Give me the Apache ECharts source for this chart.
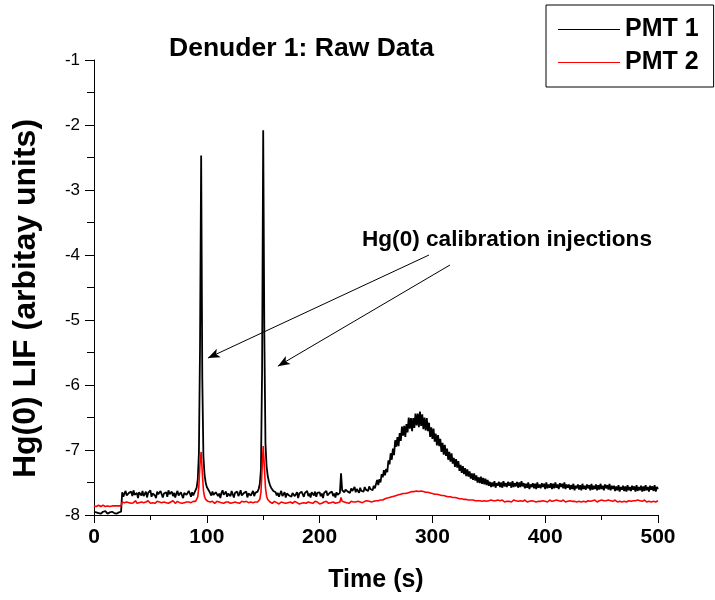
<!DOCTYPE html>
<html>
<head>
<meta charset="utf-8">
<script src="https://cdn.jsdelivr.net/npm/echarts@6/dist/echarts.min.js"></script>
<style>html,body{margin:0;padding:0;background:#fff}#c{width:715px;height:600px}</style>
</head>
<body>
<div id="c"></div>
<script>
// ---- Data (time in s, 1 s sampling; each segment starts at the given time) ----
const seriesNames = ['PMT 1', 'PMT 2'];
const xTicks = [0, 100, 200, 300, 400, 500];
const yTicks = [-8, -7, -6, -5, -4, -3, -2, -1];

// PMT 1 (black)
const pmt1_t0 = [-7.95,-7.97,-7.96,-7.94,-7.97,-7.95,-7.98,-7.96,-7.95,-7.97,-7.94,-7.96,-7.98,-7.95,-7.96,-7.97,-7.95,-7.94,-7.97,-7.96,-7.98,-7.95,-7.96,-7.97,-7.95];
const pmt1_t25 = [-7.65,-7.72,-7.67,-7.63,-7.70,-7.73,-7.66,-7.68,-7.64,-7.71,-7.62,-7.69,-7.72,-7.66,-7.74,-7.65,-7.67,-7.70,-7.63,-7.71,-7.68,-7.64,-7.73,-7.66,-7.69,-7.62,-7.72,-7.67,-7.65,-7.70,-7.74,-7.64,-7.68,-7.71,-7.63,-7.66,-7.73,-7.67,-7.70,-7.65,-7.72,-7.62,-7.68,-7.69,-7.64,-7.71,-7.66,-7.73,-7.67,-7.63,-7.70,-7.72,-7.65,-7.68,-7.74,-7.66,-7.64,-7.69,-7.71,-7.63,-7.67,-7.72,-7.65,-7.70,-7.66];
const pmt1_t90 = [-7.64,-7.58,-7.45,-7.05,-5.40,-2.47,-5.90,-7.10,-7.38,-7.50,-7.57,-7.60,-7.63,-7.66];
const pmt1_t104 = [-7.70,-7.64,-7.69,-7.72,-7.65,-7.63,-7.71,-7.67,-7.74,-7.66,-7.62,-7.69,-7.70,-7.64,-7.72,-7.67,-7.65,-7.71,-7.63,-7.68,-7.73,-7.66,-7.69,-7.64,-7.71,-7.67,-7.62,-7.70,-7.72,-7.66,-7.68,-7.64,-7.73,-7.67,-7.65,-7.70,-7.69,-7.63,-7.71,-7.66,-7.68,-7.64];
const pmt1_t146 = [-7.60,-7.52,-7.30,-5.80,-2.08,-5.20,-6.90,-7.25,-7.40,-7.48,-7.54,-7.58,-7.61,-7.63,-7.66];
const pmt1_t161 = [-7.65,-7.70,-7.66,-7.72,-7.67,-7.63,-7.71,-7.69,-7.65,-7.73,-7.67,-7.64,-7.70,-7.68,-7.72,-7.66,-7.63,-7.71,-7.69,-7.65,-7.74,-7.67,-7.70,-7.64,-7.68,-7.72,-7.66,-7.69,-7.63,-7.71,-7.67,-7.73,-7.65,-7.68,-7.70,-7.64,-7.72,-7.66,-7.69,-7.65,-7.71,-7.67,-7.74,-7.66,-7.68,-7.63,-7.70,-7.72,-7.66,-7.69,-7.64,-7.71,-7.67,-7.73,-7.65,-7.69,-7.70,-7.66];
const pmt1_t219 = [-7.36,-7.62];
const pmt1_t221 = [-7.60,-7.65,-7.61,-7.58,-7.64,-7.62,-7.66,-7.59,-7.63,-7.61,-7.57,-7.65,-7.60,-7.62,-7.66,-7.58,-7.63,-7.60,-7.64,-7.57,-7.61,-7.59,-7.63,-7.56,-7.60,-7.58,-7.62,-7.55,-7.59,-7.57];
const pmt1_t251 = [-7.46,-7.54,-7.45,-7.50,-7.37,-7.42,-7.31,-7.39,-7.29,-7.34,-7.16,-7.22,-7.05,-7.15,-6.98,-7.08,-6.85,-6.95,-6.80,-6.94,-6.74,-6.86,-6.64,-6.78,-6.63,-6.80,-6.60,-6.73,-6.50,-6.67,-6.51,-6.71,-6.51,-6.66,-6.44,-6.62,-6.44,-6.65,-6.41,-6.63,-6.45,-6.68,-6.50,-6.70,-6.51,-6.71,-6.58,-6.80,-6.65,-6.83,-6.67,-6.87,-6.75,-6.93,-6.77,-6.94,-6.83,-7.03,-6.89,-7.07,-6.92,-7.09,-6.98,-7.15,-7.03,-7.18,-7.05,-7.21,-7.12,-7.26,-7.14,-7.27,-7.17,-7.32,-7.23,-7.35,-7.25,-7.37,-7.28,-7.40,-7.30,-7.41,-7.33,-7.44,-7.36,-7.46,-7.36,-7.47,-7.39,-7.50,-7.42,-7.51,-7.41,-7.52,-7.43,-7.53,-7.44,-7.54,-7.46,-7.55];
const pmt1_t351 = [-7.49,-7.57,-7.50,-7.56,-7.48,-7.58,-7.51,-7.55,-7.49,-7.57,-7.50,-7.58,-7.48,-7.56,-7.51,-7.57,-7.49,-7.55,-7.50,-7.58,-7.48,-7.57,-7.51,-7.56,-7.49,-7.58,-7.50,-7.57,-7.48,-7.56];
const pmt1_t381 = [-7.51,-7.59,-7.52,-7.58,-7.50,-7.60,-7.53,-7.57,-7.51,-7.59,-7.52,-7.60,-7.50,-7.58,-7.53,-7.59,-7.51,-7.57,-7.52,-7.60,-7.50,-7.59,-7.53,-7.58,-7.51,-7.60,-7.52,-7.59,-7.50,-7.58,-7.53,-7.60,-7.51,-7.57,-7.52,-7.59,-7.50,-7.60,-7.53,-7.58];
const pmt1_t421 = [-7.53,-7.61,-7.54,-7.60,-7.52,-7.62,-7.55,-7.59,-7.53,-7.61,-7.54,-7.62,-7.52,-7.60,-7.55,-7.61,-7.53,-7.59,-7.54,-7.62,-7.52,-7.61,-7.55,-7.60,-7.53,-7.62,-7.54,-7.61,-7.52,-7.60,-7.55,-7.62,-7.53,-7.59,-7.54,-7.61,-7.52,-7.62,-7.55,-7.60];
const pmt1_t461 = [-7.55,-7.63,-7.56,-7.62,-7.54,-7.64,-7.57,-7.61,-7.55,-7.63,-7.56,-7.64,-7.54,-7.62,-7.57,-7.63,-7.55,-7.61,-7.56,-7.64,-7.54,-7.63,-7.57,-7.62,-7.55,-7.64,-7.56,-7.63,-7.54,-7.62,-7.57,-7.64,-7.55,-7.61,-7.56,-7.63,-7.54,-7.64,-7.57,-7.60];

// PMT 2 (red)
const pmt2_t0 = [-7.86,-7.85,-7.87,-7.86,-7.85,-7.86,-7.87,-7.86,-7.85,-7.86,-7.87,-7.85,-7.86,-7.86,-7.87,-7.85,-7.86,-7.87,-7.86,-7.85,-7.86,-7.87,-7.86,-7.85,-7.86];
const pmt2_t25 = [-7.80,-7.79,-7.81,-7.82,-7.80,-7.78,-7.81,-7.80,-7.82,-7.79,-7.81,-7.80,-7.78,-7.82,-7.80,-7.81,-7.79,-7.80,-7.82,-7.81,-7.79,-7.80,-7.81,-7.78,-7.80,-7.82,-7.79,-7.81,-7.80,-7.82,-7.80,-7.79,-7.81,-7.80,-7.78,-7.81,-7.82,-7.80,-7.79,-7.81,-7.80,-7.82,-7.79,-7.80,-7.81,-7.78,-7.80,-7.82,-7.81,-7.79,-7.80,-7.81,-7.79,-7.82,-7.80,-7.81,-7.79,-7.80,-7.82,-7.80,-7.78,-7.81,-7.80,-7.79,-7.81];
const pmt2_t90 = [-7.79,-7.77,-7.72,-7.55,-7.20,-7.03,-7.35,-7.62,-7.72,-7.76,-7.78,-7.79,-7.80];
const pmt2_t103 = [-7.80,-7.81,-7.79,-7.80,-7.82,-7.80,-7.79,-7.81,-7.80,-7.78,-7.81,-7.80,-7.82,-7.79,-7.80,-7.81,-7.80,-7.79,-7.82,-7.80,-7.81,-7.79,-7.80,-7.78,-7.81,-7.80,-7.82,-7.80,-7.79,-7.81,-7.80,-7.82,-7.79,-7.80,-7.81,-7.79,-7.80,-7.82,-7.81,-7.79,-7.80,-7.81,-7.80];
const pmt2_t146 = [-7.79,-7.76,-7.65,-7.30,-6.94,-7.25,-7.58,-7.71,-7.76,-7.78,-7.80];
const pmt2_t157 = [-7.80,-7.82,-7.81,-7.79,-7.82,-7.81,-7.80,-7.83,-7.81,-7.80,-7.82,-7.81,-7.79,-7.82,-7.80,-7.81,-7.83,-7.80,-7.81,-7.82,-7.80,-7.79,-7.82,-7.81,-7.80,-7.83,-7.81,-7.82,-7.80,-7.81,-7.79,-7.82,-7.81,-7.80,-7.83,-7.81,-7.80,-7.82,-7.81,-7.79,-7.82,-7.80,-7.81,-7.83,-7.80,-7.82,-7.81,-7.80,-7.82,-7.79,-7.81,-7.82,-7.80,-7.81,-7.83,-7.80,-7.81,-7.82,-7.80,-7.81,-7.82,-7.80];
const pmt2_t219 = [-7.73,-7.79];
const pmt2_t221 = [-7.81,-7.80,-7.82,-7.81,-7.80,-7.82,-7.81,-7.79,-7.81,-7.80,-7.82,-7.80,-7.81,-7.79,-7.81,-7.80,-7.78,-7.81,-7.80,-7.79,-7.81,-7.78,-7.80,-7.79,-7.77,-7.80,-7.78,-7.79,-7.77,-7.78];
const pmt2_t251 = [-7.77,-7.78,-7.76,-7.77,-7.75,-7.77,-7.74,-7.75,-7.73,-7.74,-7.72,-7.73,-7.71,-7.72,-7.70,-7.71,-7.69,-7.70,-7.68,-7.69,-7.67,-7.68,-7.66,-7.67,-7.65,-7.67,-7.64,-7.66,-7.63,-7.65,-7.63,-7.64,-7.62,-7.64,-7.62,-7.63,-7.61,-7.64,-7.62,-7.63,-7.61,-7.64,-7.62,-7.65,-7.63,-7.65,-7.64,-7.66,-7.65,-7.67,-7.65,-7.68,-7.66,-7.68,-7.67,-7.69,-7.67,-7.70,-7.68,-7.70,-7.69,-7.71,-7.69,-7.72,-7.70,-7.72,-7.71,-7.73,-7.72,-7.73,-7.72,-7.74,-7.73,-7.75,-7.73,-7.75,-7.74,-7.76,-7.74,-7.76,-7.75,-7.77,-7.75,-7.77,-7.76,-7.77,-7.76,-7.78,-7.76,-7.78,-7.77,-7.78,-7.76,-7.79,-7.77,-7.78,-7.77,-7.79,-7.77,-7.78,-7.79,-7.77,-7.79,-7.78,-7.80,-7.78,-7.79,-7.77,-7.79,-7.78];
const pmt2_t361 = [-7.79,-7.77,-7.78,-7.80,-7.78,-7.79,-7.77,-7.79,-7.78,-7.80,-7.78,-7.77,-7.79,-7.78,-7.80,-7.79,-7.77,-7.78,-7.80,-7.79,-7.78,-7.77,-7.79,-7.80,-7.78,-7.79,-7.77,-7.78,-7.80,-7.79,-7.78,-7.80,-7.77,-7.79,-7.78,-7.79,-7.80,-7.78,-7.77,-7.79,-7.78,-7.80,-7.79,-7.77,-7.78,-7.79,-7.80,-7.78,-7.79,-7.77,-7.79,-7.78,-7.80,-7.79,-7.78,-7.77,-7.79,-7.80,-7.78,-7.79,-7.77,-7.78,-7.80,-7.79,-7.78,-7.79,-7.77,-7.80,-7.78,-7.79,-7.78,-7.80,-7.77,-7.79,-7.78,-7.80,-7.79,-7.78,-7.77,-7.79,-7.80,-7.78,-7.79,-7.77,-7.78,-7.80,-7.79,-7.78,-7.79,-7.77,-7.80,-7.78,-7.79,-7.78,-7.80,-7.77,-7.79,-7.78,-7.80,-7.79,-7.78,-7.77,-7.79,-7.80,-7.78,-7.79,-7.78,-7.80,-7.77,-7.79,-7.78,-7.80,-7.79,-7.78,-7.77,-7.79,-7.80,-7.78,-7.79,-7.78,-7.80,-7.77,-7.79,-7.78,-7.80,-7.79,-7.78,-7.77,-7.79,-7.80,-7.78,-7.79,-7.78,-7.80,-7.77,-7.79,-7.78,-7.80,-7.79,-7.78];

// Annotation: label and arrows (tail -> head, in data units)
const annotationText = 'Hg(0) calibration injections';
const arrows = [
  [[297, -4.00], [101, -5.585]],
  [[315.6, -4.154], [163, -5.71]]
];

// ---- Build ----
function build(segs) {
  const out = [];
  segs.forEach(([t0, vals]) => vals.forEach((v, i) => out.push([t0 + i, v])));
  return out;
}
const pmt1 = build([[0, pmt1_t0], [25, pmt1_t25], [90, pmt1_t90], [104, pmt1_t104], [146, pmt1_t146], [161, pmt1_t161], [219, pmt1_t219], [221, pmt1_t221], [251, pmt1_t251], [351, pmt1_t351], [381, pmt1_t381], [421, pmt1_t421], [461, pmt1_t461]]);
const pmt2 = build([[0, pmt2_t0], [25, pmt2_t25], [90, pmt2_t90], [103, pmt2_t103], [146, pmt2_t146], [157, pmt2_t157], [219, pmt2_t219], [221, pmt2_t221], [251, pmt2_t251], [361, pmt2_t361]]);

const FONT = "'Liberation Sans', Arial, sans-serif";
const chart = echarts.init(document.getElementById('c'), null, {renderer: 'canvas'});
chart.setOption({
  animation: false,
  backgroundColor: '#fff',
  title: {
    text: 'Denuder 1: Raw Data',
    left: 164, top: 30,
    textStyle: {fontFamily: FONT, fontSize: 26.5, fontWeight: 'bold', color: '#000'}
  },
  legend: {
    orient: 'vertical', left: 546, top: 5,
    data: seriesNames,
    icon: 'rect',
    itemWidth: 62, itemHeight: 1, itemGap: 8,
    padding: [12, 15, 12, 12],
    borderColor: '#000', borderWidth: 1,
    textStyle: {fontFamily: FONT, fontSize: 25, fontWeight: 'bold', color: '#000'}
  },
  grid: {left: 94, right: 57, top: 60, bottom: 85, containLabel: false},
  xAxis: {
    type: 'value', min: xTicks[0], max: xTicks[xTicks.length - 1], interval: 100,
    name: 'Time (s)', nameLocation: 'middle', nameGap: 53,
    nameTextStyle: {fontFamily: FONT, fontSize: 25, fontWeight: 'bold', color: '#000'},
    axisLine: {show: true, lineStyle: {color: '#000', width: 1}},
    axisTick: {show: true, inside: false, length: 8, lineStyle: {color: '#000'}},
    minorTick: {show: true, splitNumber: 2, length: 5, lineStyle: {color: '#000'}},
    splitLine: {show: false},
    axisLabel: {margin: 12, fontFamily: FONT, fontSize: 21, fontWeight: 'bold', color: '#000'}
  },
  yAxis: {
    type: 'value', min: yTicks[0], max: yTicks[yTicks.length - 1], interval: 1,
    name: 'Hg(0) LIF (arbitay units)', nameLocation: 'middle', nameGap: 52, nameRotate: 90,
    nameTextStyle: {fontFamily: FONT, fontSize: 32, fontWeight: 'bold', color: '#000', padding: [0, 22, 0, 0]},
    axisLine: {show: true, lineStyle: {color: '#000', width: 1}},
    axisTick: {show: true, inside: false, length: 9, lineStyle: {color: '#000'}},
    minorTick: {show: true, splitNumber: 2, length: 7, lineStyle: {color: '#000'}},
    splitLine: {show: false},
    axisLabel: {margin: 14, fontFamily: FONT, fontSize: 17, color: '#000'}
  },
  series: [
    {
      name: seriesNames[0], type: 'line', data: pmt1, symbol: 'none', showSymbol: false,
      sampling: null, lineStyle: {color: '#000', width: 1.8}, itemStyle: {color: '#000'}, z: 3,
      markLine: {
        silent: true, symbol: ['none', 'arrow'], symbolSize: [7, 12],
        lineStyle: {color: '#000', width: 1, type: 'solid'},
        label: {show: false},
        data: arrows.map(([a, b]) => [{coord: a}, {coord: b}])
      }
    },
    {
      name: seriesNames[1], type: 'line', data: pmt2, symbol: 'none', showSymbol: false,
      sampling: null, lineStyle: {color: '#ff0000', width: 1.6}, itemStyle: {color: '#ff0000'}, z: 4
    }
  ],
  graphic: [{
    type: 'text', left: 362, top: 228,
    style: {text: annotationText, font: "bold 22.6px 'Liberation Sans', Arial, sans-serif", fill: '#000'}
  }]
});
</script>
</body>
</html>
